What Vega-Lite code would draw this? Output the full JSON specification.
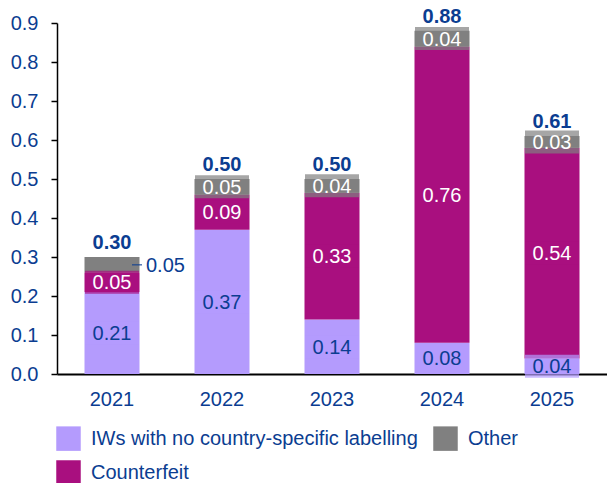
{
  "$schema": "https://vega.github.io/schema/vega-lite/v6.json",
  "width": 550,
  "height": 351,
  "autosize": {"type": "none"},
  "padding": {"left": 57, "top": 23, "right": 0, "bottom": 109},
  "config": {
    "view": {"stroke": null},
    "font": "Liberation Sans",
    "text": {"font": "Liberation Sans"}
  },
  "data": {
    "values": [
      {"year": "2021", "category": "IWs with no country-specific labelling", "value": 0.21, "label": "0.21"},
      {"year": "2021", "category": "Counterfeit", "value": 0.05, "label": "0.05"},
      {"year": "2021", "category": "Other", "value": 0.04, "label": "0.05"},
      {"year": "2022", "category": "IWs with no country-specific labelling", "value": 0.37, "label": "0.37"},
      {"year": "2022", "category": "Counterfeit", "value": 0.09, "label": "0.09"},
      {"year": "2022", "category": "Other", "value": 0.04, "label": "0.05"},
      {"year": "2023", "category": "IWs with no country-specific labelling", "value": 0.14, "label": "0.14"},
      {"year": "2023", "category": "Counterfeit", "value": 0.325, "label": "0.33"},
      {"year": "2023", "category": "Other", "value": 0.035, "label": "0.04"},
      {"year": "2024", "category": "IWs with no country-specific labelling", "value": 0.08, "label": "0.08"},
      {"year": "2024", "category": "Counterfeit", "value": 0.76, "label": "0.76"},
      {"year": "2024", "category": "Other", "value": 0.04, "label": "0.04"},
      {"year": "2025", "category": "IWs with no country-specific labelling", "value": 0.04, "label": "0.04"},
      {"year": "2025", "category": "Counterfeit", "value": 0.54, "label": "0.54"},
      {"year": "2025", "category": "Other", "value": 0.03, "label": "0.03"}
    ]
  },
  "transform": [
    {"calculate": "indexof(['IWs with no country-specific labelling','Counterfeit','Other'], datum.category)", "as": "ord"},
    {"stack": "value", "groupby": ["year"], "sort": [{"field": "ord", "order": "ascending"}], "as": ["v0", "v1"]},
    {"calculate": "(datum.v0 + datum.v1) / 2", "as": "mid"}
  ],
  "encoding": {
    "x": {
      "field": "year", "type": "ordinal",
      "scale": {"paddingInner": 0.5, "paddingOuter": 0.25},
      "axis": {
        "title": null, "labelAngle": 0, "ticks": false, "domainColor": "#000000", "domainWidth": 2,
        "labelFontSize": 20, "labelColor": "#0b3d91", "labelPadding": 15, "labelFont": "Liberation Sans"
      }
    }
  },
  "layer": [
    {
      "mark": {"type": "bar"},
      "encoding": {
        "y": {
          "field": "v0", "type": "quantitative",
          "scale": {"domain": [0, 0.9], "nice": false},
          "axis": {
            "title": null, "grid": false, "values": [0, 0.1, 0.2, 0.3, 0.4, 0.5, 0.6, 0.7, 0.8, 0.9],
            "labelOverlap": false,
            "format": ".1f", "domainColor": "#000000", "domainWidth": 1.5, "tickColor": "#000000",
            "tickSize": 6, "tickWidth": 1.5, "labelPadding": 13, "labelFontSize": 20,
            "labelColor": "#0b3d91", "labelFont": "Liberation Sans"
          }
        },
        "y2": {"field": "v1"},
        "color": {
          "field": "category", "type": "nominal",
          "scale": {
            "domain": ["IWs with no country-specific labelling", "Other", "Counterfeit"],
            "range": ["#b49bfd", "#808080", "#a90f7f"]
          },
          "legend": {
            "title": null, "orient": "none", "legendX": -1, "legendY": 403, "columns": 2,
            "direction": "horizontal", "symbolType": "square", "symbolSize": 600, "symbolStrokeWidth": 0,
            "labelFontSize": 20, "labelColor": "#0b3d91", "labelFont": "Liberation Sans",
            "labelOffset": 10, "columnPadding": 15, "rowPadding": 9, "padding": 0, "labelLimit": 400
          }
        }
      }
    },
    {
      "transform": [{"filter": "!(datum.year == '2021' && datum.category == 'Other')"}],
      "mark": {"type": "tick", "size": 54, "thickness": 23},
      "encoding": {
        "y": {
          "field": "mid", "type": "quantitative",
          "axis": {
            "title": null, "grid": false, "values": [0, 0.1, 0.2, 0.3, 0.4, 0.5, 0.6, 0.7, 0.8, 0.9],
            "labelOverlap": false,
            "format": ".1f", "domainColor": "#000000", "domainWidth": 1.5, "tickColor": "#000000",
            "tickSize": 6, "tickWidth": 1.5, "labelPadding": 13, "labelFontSize": 20,
            "labelColor": "#0b3d91", "labelFont": "Liberation Sans"
          }
        },
        "color": {"field": "category", "type": "nominal", "legend": null}
      }
    },
    {
      "transform": [{"filter": "!(datum.year == '2021' && datum.category == 'Other')"}],
      "mark": {"type": "text", "fontSize": 20, "baseline": "middle", "dy": 1},
      "encoding": {
        "y": {
          "field": "mid", "type": "quantitative",
          "axis": {
            "title": null, "grid": false, "values": [0, 0.1, 0.2, 0.3, 0.4, 0.5, 0.6, 0.7, 0.8, 0.9],
            "labelOverlap": false,
            "format": ".1f", "domainColor": "#000000", "domainWidth": 1.5, "tickColor": "#000000",
            "tickSize": 6, "tickWidth": 1.5, "labelPadding": 13, "labelFontSize": 20,
            "labelColor": "#0b3d91", "labelFont": "Liberation Sans"
          }
        },
        "text": {"field": "label"},
        "color": {
          "condition": {"test": "datum.category == 'IWs with no country-specific labelling'", "value": "#0b3d91"},
          "value": "#ffffff"
        }
      }
    },
    {
      "transform": [{"filter": "datum.year == '2021' && datum.category == 'Other'"}],
      "mark": {"type": "tick", "size": 10, "thickness": 1.5, "xOffset": 25, "color": "#0b3d91"},
      "encoding": {
        "y": {
          "field": "mid", "type": "quantitative",
          "axis": {
            "title": null, "grid": false, "values": [0, 0.1, 0.2, 0.3, 0.4, 0.5, 0.6, 0.7, 0.8, 0.9],
            "labelOverlap": false,
            "format": ".1f", "domainColor": "#000000", "domainWidth": 1.5, "tickColor": "#000000",
            "tickSize": 6, "tickWidth": 1.5, "labelPadding": 13, "labelFontSize": 20,
            "labelColor": "#0b3d91", "labelFont": "Liberation Sans"
          }
        }
      }
    },
    {
      "transform": [{"filter": "datum.year == '2021' && datum.category == 'Other'"}],
      "mark": {"type": "text", "fontSize": 20, "baseline": "middle", "align": "left", "dx": 34, "dy": 1, "color": "#0b3d91"},
      "encoding": {
        "y": {
          "field": "mid", "type": "quantitative",
          "axis": {
            "title": null, "grid": false, "values": [0, 0.1, 0.2, 0.3, 0.4, 0.5, 0.6, 0.7, 0.8, 0.9],
            "labelOverlap": false,
            "format": ".1f", "domainColor": "#000000", "domainWidth": 1.5, "tickColor": "#000000",
            "tickSize": 6, "tickWidth": 1.5, "labelPadding": 13, "labelFontSize": 20,
            "labelColor": "#0b3d91", "labelFont": "Liberation Sans"
          }
        },
        "text": {"field": "label"}
      }
    },
    {
      "transform": [{"aggregate": [{"op": "sum", "field": "value", "as": "total"}], "groupby": ["year"]}],
      "mark": {"type": "text", "fontSize": 20, "fontWeight": "bold", "baseline": "bottom", "dy": -4, "color": "#0b3d91"},
      "encoding": {
        "y": {
          "field": "total", "type": "quantitative",
          "axis": {
            "title": null, "grid": false, "values": [0, 0.1, 0.2, 0.3, 0.4, 0.5, 0.6, 0.7, 0.8, 0.9],
            "labelOverlap": false,
            "format": ".1f", "domainColor": "#000000", "domainWidth": 1.5, "tickColor": "#000000",
            "tickSize": 6, "tickWidth": 1.5, "labelPadding": 13, "labelFontSize": 20,
            "labelColor": "#0b3d91", "labelFont": "Liberation Sans"
          }
        },
        "text": {"field": "total", "type": "quantitative", "format": ".2f"}
      }
    }
  ]
}
